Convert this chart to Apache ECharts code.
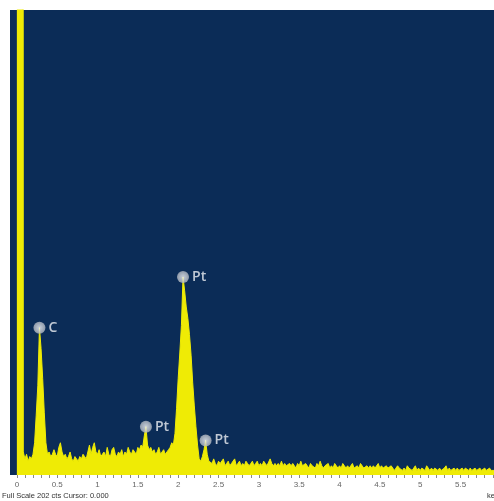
<!DOCTYPE html>
<html>
<head>
<meta charset="utf-8">
<script src="https://cdn.jsdelivr.net/npm/echarts@6/dist/echarts.min.js"></script>
<style>
  html, body { margin: 0; padding: 0; background: #ffffff; }
  #chart { width: 494px; height: 501px; }
</style>
</head>
<body>
<div id="chart"></div>
<script>
// EDS spectrum, 20 eV channels starting at 0 keV
const channelStartKeV = 0;
const channelWidthKeV = 0.02;
const fullScaleCounts = 202;

// counts per channel, ten channels (0.2 keV) per row
const counts = [
  4800, 6100, 5200, 3100, 10, 7, 9, 6, 8, 7,      // 0.00
  9, 14, 26, 39, 64, 55, 42, 27, 14, 9,           // 0.20
  10, 8, 9, 11, 9, 8, 12, 14, 10, 8,              // 0.40
  9, 7, 8, 10, 7, 6, 8, 7, 6, 8,                  // 0.60
  7, 9, 8, 7, 10, 13, 9, 12, 14, 10,              // 0.80
  9, 11, 8, 9, 10, 8, 12, 9, 8, 11,               // 1.00
  12, 9, 8, 10, 9, 11, 8, 10, 9, 12,              // 1.20
  10, 9, 11, 10, 9, 12, 11, 13, 12, 17,           // 1.40
  21, 13, 11, 12, 10, 11, 9, 10, 12, 9,           // 1.60
  10, 11, 9, 10, 11, 12, 14, 13, 18, 29,          // 1.80
  42, 53, 65, 86, 80, 73, 68, 61, 52, 40,         // 2.00
  30, 21, 13, 7, 6, 8, 11, 15, 9, 6,              // 2.20
  6, 5, 7, 5, 4, 6, 5, 5, 7, 4,                   // 2.40
  5, 6, 4, 5, 5, 7, 4, 5, 6, 4,                   // 2.60
  5, 4, 6, 5, 4, 5, 6, 4, 5, 6,                   // 2.80
  4, 5, 4, 6, 5, 4, 4, 7, 5, 4,                   // 3.00
  5, 4, 5, 4, 6, 4, 5, 4, 4, 5,                   // 3.20
  4, 5, 4, 3, 5, 4, 6, 4, 4, 5,                   // 3.40
  4, 3, 5, 4, 4, 3, 5, 4, 6, 4,                   // 3.60
  3, 4, 4, 5, 3, 4, 3, 5, 4, 3,                   // 3.80
  4, 3, 5, 4, 3, 4, 3, 4, 5, 3,                   // 4.00
  3, 4, 3, 5, 4, 3, 3, 4, 3, 4,                   // 4.20
  3, 4, 3, 3, 5, 3, 4, 3, 3, 4,                   // 4.40
  3, 3, 4, 3, 2, 3, 4, 3, 3, 2,                   // 4.60
  3, 2, 4, 3, 3, 2, 3, 4, 2, 3,                   // 4.80
  2, 3, 3, 2, 4, 3, 2, 3, 2, 3,                   // 5.00
  3, 2, 3, 2, 2, 3, 4, 2, 3, 2,                   // 5.20
  2, 3, 2, 3, 2, 2, 3, 2, 3, 3,                   // 5.40
  2, 3, 2, 2, 3, 2, 2, 3, 2, 2,                   // 5.60
  3, 2, 2, 3, 2, 2, 2                             // 5.80
];

// identified lines (keV) and their element labels
const peakEnergies = [0.28, 1.60, 2.06, 2.34];
const peakLabels = ['C', 'Pt', 'Pt', 'Pt'];

// energy axis labels and tick positions (keV)
const axisLabelValues = [0, 0.5, 1, 1.5, 2, 2.5, 3, 3.5, 4, 4.5, 5, 5.5];
const tickValues = [
  0, 0.1, 0.2, 0.3, 0.4, 0.5, 0.6, 0.7, 0.8, 0.9,
  1, 1.1, 1.2, 1.3, 1.4, 1.5, 1.6, 1.7, 1.8, 1.9,
  2, 2.1, 2.2, 2.3, 2.4, 2.5, 2.6, 2.7, 2.8, 2.9,
  3, 3.1, 3.2, 3.3, 3.4, 3.5, 3.6, 3.7, 3.8, 3.9,
  4, 4.1, 4.2, 4.3, 4.4, 4.5, 4.6, 4.7, 4.8, 4.9,
  5, 5.1, 5.2, 5.3, 5.4, 5.5, 5.6, 5.7, 5.8, 5.9
];

const spectrum = counts.map((c, i) => [channelStartKeV + i * channelWidthKeV, c]);
const peakPoints = peakEnergies.map((e, k) => {
  const idx = Math.round((e - channelStartKeV) / channelWidthKeV);
  return [e, counts[idx], peakLabels[k]];
});

const YELLOW = '#efeb05';
const NAVY = '#0b2c57';

const chart = echarts.init(document.getElementById('chart'), null, { renderer: 'canvas' });
chart.setOption({
  animation: false,
  backgroundColor: '#ffffff',
  grid: {
    left: 10, right: 0, top: 10, bottom: 26,
    show: true, backgroundColor: NAVY, borderWidth: 0
  },
  xAxis: {
    type: 'value',
    min: -0.085,
    max: 5.915,
    axisLine: { show: false },
    splitLine: { show: false },
    axisTick: {
      show: true, customValues: tickValues, length: 3,
      lineStyle: { color: '#8a8a8a', width: 1 }
    },
    axisLabel: {
      customValues: axisLabelValues,
      fontSize: 8, color: '#666666', margin: 6,
      fontFamily: 'Liberation Sans'
    }
  },
  yAxis: {
    type: 'value', min: 0, max: fullScaleCounts, show: false,
    splitLine: { show: false }
  },
  series: [
    {
      type: 'line',
      data: spectrum,
      showSymbol: false,
      clip: true,
      sampling: 'none',
      lineStyle: { color: YELLOW, width: 1 },
      areaStyle: { color: YELLOW, opacity: 1 },
      z: 2
    },
    {
      type: 'scatter',
      data: peakPoints,
      symbolSize: 12,
      itemStyle: {
        color: {
          type: 'radial', x: 0.5, y: 0.5, r: 0.5,
          colorStops: [
            { offset: 0, color: '#f6f7f9' },
            { offset: 1, color: '#aeb4be' }
          ]
        }
      },
      label: {
        show: true,
        position: 'right',
        distance: 3,
        formatter: p => p.data[2],
        color: '#eef0f4',
        fontSize: 14,
        fontWeight: 600,
        fontFamily: 'Open Sans'
      },
      z: 5
    }
  ],
  graphic: [
    {
      type: 'text', left: 2, top: 492,
      style: { text: 'Full Scale 202 cts Cursor: 0.000', fontSize: 7.5, fill: '#333333', fontFamily: 'Liberation Sans' }
    },
    {
      type: 'text', left: 487, top: 492,
      style: { text: 'keV', fontSize: 7.5, fill: '#333333', fontFamily: 'Liberation Sans' }
    }
  ]
});
</script>
</body>
</html>
